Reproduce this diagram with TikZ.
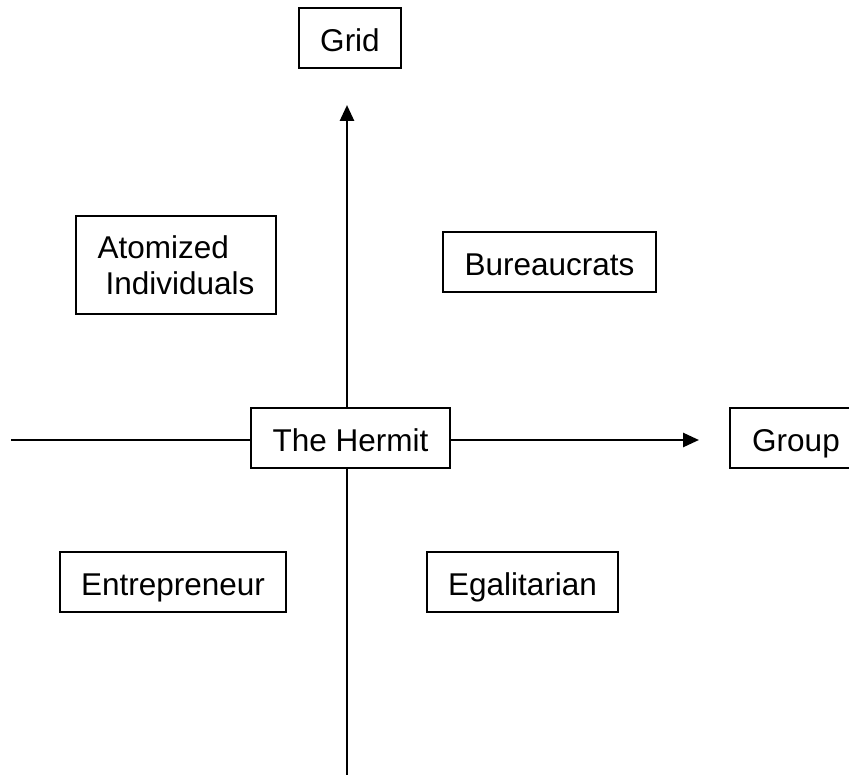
\documentclass[tikz,border=0pt]{standalone}
\usepackage{fontspec}
\setmainfont{Liberation Sans}
\usetikzlibrary{arrows.meta}
\begin{document}
\begin{tikzpicture}[x=1pt,y=-1pt,
  font=\fontsize{31.5pt}{37pt}\selectfont,
  boxnode/.style={draw, line width=2pt, inner sep=0pt, outer sep=0pt, fill=white,
    minimum height=60pt, text height=27pt, text depth=0pt},
  multibox/.style={draw, line width=2pt, inner sep=0pt, outer sep=0pt, fill=white, align=left},
  axisline/.style={line width=2.7pt},
  axisarrow/.style={line width=2.7pt, -{Triangle[length=16pt,width=14pt]}}]
\useasboundingbox[fill=white] (0,0) rectangle (849,775);
% coordinates for free ends
\coordinate (vtop) at (347,105);
\coordinate (vbot) at (347,785);
\coordinate (hleft) at (11,440);
\coordinate (hright) at (699,440);
% nodes
\node[boxnode, minimum width=102pt] (grid) at (350,38.3) {Grid};
\node[multibox, minimum width=200pt, minimum height=98pt] (atom) at (176,265)
  {Atomized\\[-1pt]\hspace*{8pt}Individuals};
\node[boxnode, minimum width=213pt] (bureau) at (549.5,262) {Bureaucrats};
\node[boxnode, minimum width=199pt] (hermit) at (350.5,438.5) {The Hermit};
\node[boxnode, minimum width=132pt] (group) at (796,438.5) {Group};
\node[boxnode, minimum width=226pt] (entre) at (173,582) {Entrepreneur};
\node[boxnode, minimum width=191pt] (egal) at (522.5,582) {Egalitarian};
% connectors
\draw[axisarrow] (hermit.north -| vtop) -- (vtop);
\draw[axisline] (hermit.south -| vtop) -- (vbot);
\draw[axisline] (hermit.west |- hleft) -- (hleft);
\draw[axisarrow] (hermit.east |- hright) -- (hright);
\end{tikzpicture}
\end{document}
